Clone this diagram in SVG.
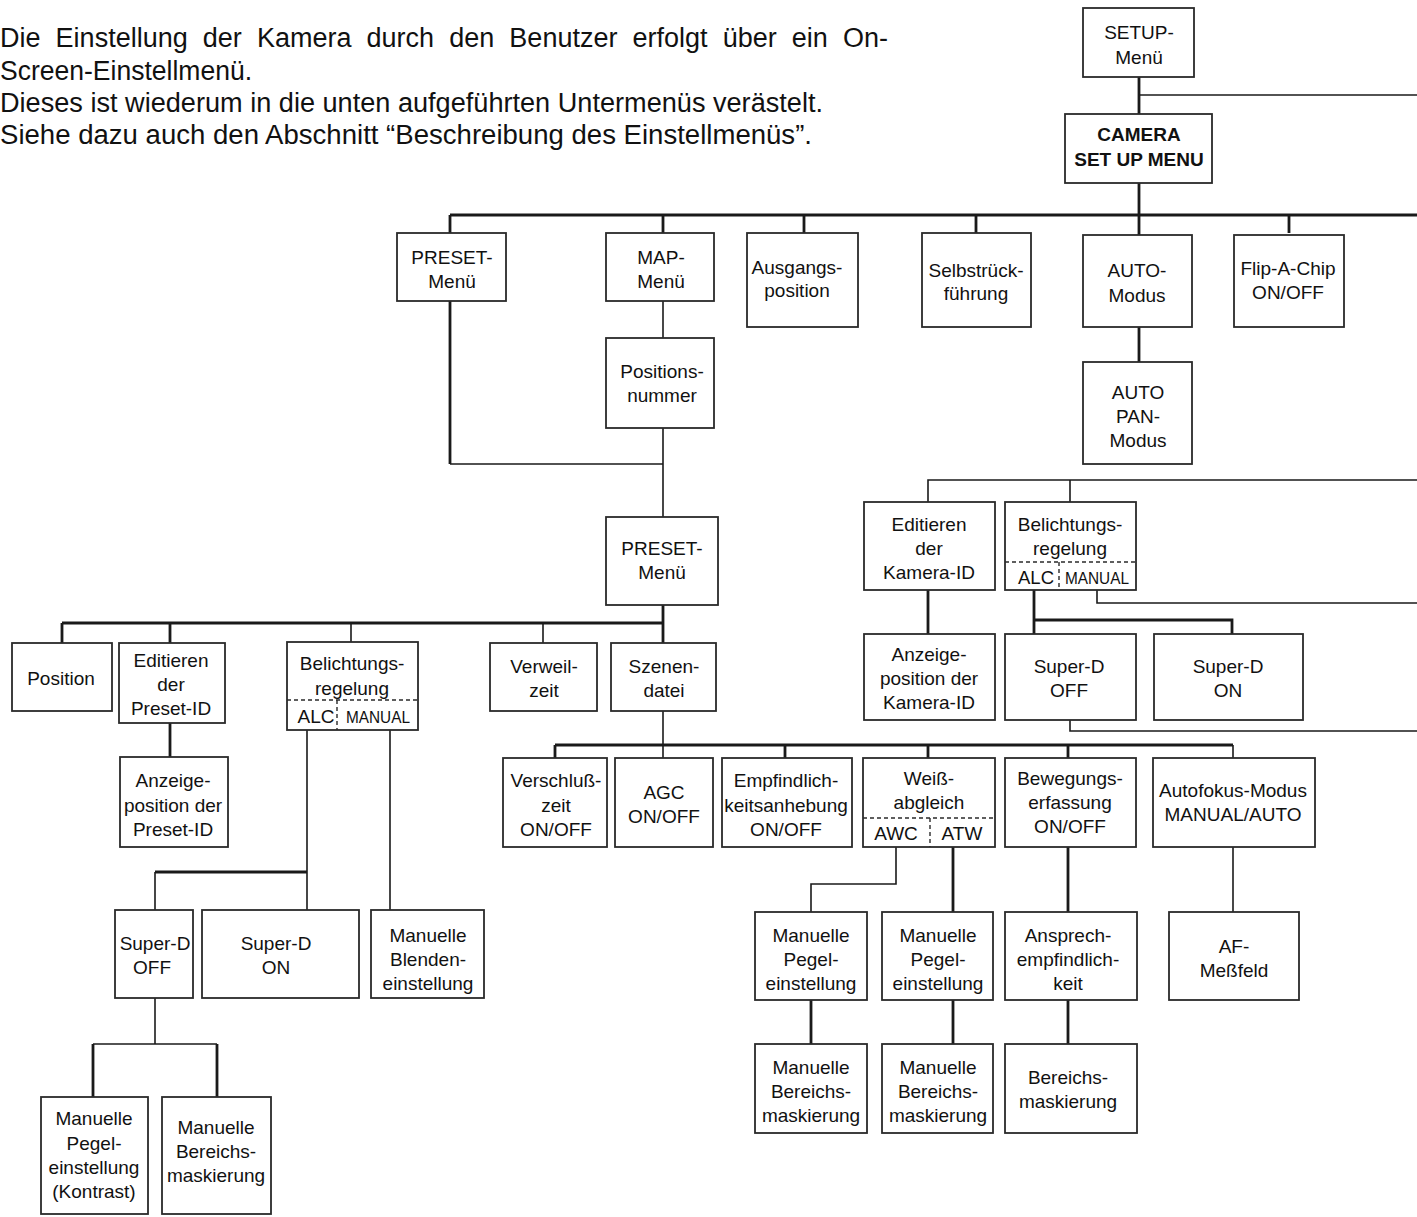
<svg xmlns="http://www.w3.org/2000/svg" width="1417" height="1217" viewBox="0 0 1417 1217">
<style>
.bg{fill:#fff}
rect.b{fill:#fff;stroke:#2a2a2a;stroke-width:1.8}
text{font-family:"Liberation Sans",Arial,sans-serif;fill:#111}
.t{font-size:19px;text-anchor:middle}
.s{font-size:17px;text-anchor:middle}
.bold{font-weight:bold;font-size:19px;text-anchor:middle}
.p{font-size:27px}
.k{fill:none;stroke:#1a1a1a;stroke-width:2.8}
.h{fill:none;stroke:#1a1a1a;stroke-width:1.6}
.d{fill:none;stroke:#2a2a2a;stroke-width:1.4;stroke-dasharray:4 3}
</style>
<rect class="bg" x="0" y="0" width="1417" height="1217"/>
<g id="intro">
<text class="p" x="0" y="47" word-spacing="7.6">Die Einstellung der Kamera durch den Benutzer erfolgt über ein On-</text>
<text class="p" x="0" y="80" textLength="252" lengthAdjust="spacingAndGlyphs">Screen-Einstellmenü.</text>
<text class="p" x="0" y="112" textLength="823" lengthAdjust="spacingAndGlyphs">Dieses ist wiederum in die unten aufgeführten Untermenüs verästelt.</text>
<text class="p" x="0" y="144" textLength="812" lengthAdjust="spacingAndGlyphs">Siehe dazu auch den Abschnitt “Beschreibung des Einstellmenüs”.</text>
</g>
<g id="connectors">
<path class="k" d="M1139 77V114M1139 183V235M450 215H1417M450 215V233M663 215V233M804 215V233M976 215V233M1289 215V233"/>
<path class="h" d="M1139 95H1417"/>
<path class="k" d="M1139 327V362"/>
<path class="h" d="M663 301V338"/>
<path class="k" d="M450 301V464"/>
<path class="h" d="M450 464H663M663 428V517"/>
<path class="h" d="M928 502V480H1417M1070 480V502"/>
<path class="k" d="M928 590V634"/>
<path class="h" d="M1097 590V603H1417"/>
<path class="k" d="M1034 590V634M1034 620H1232V634"/>
<path class="h" d="M1070 720V731H1417"/>
<path class="k" d="M62 623H663M62 623V643M170 623V643M663 605V643"/>
<path class="h" d="M351 623V642M543 623V643"/>
<path class="k" d="M170 723V757"/>
<path class="h" d="M307 730V910M390 730V910M155 910V872"/>
<path class="k" d="M155 872H307"/>
<path class="h" d="M155 998V1044"/>
<path class="h" d="M93 1044H217"/>
<path class="k" d="M93 1044V1097M217 1044V1097"/>
<path class="h" d="M663 711V745"/>
<path class="k" d="M555 745H1233M555 745V758M785 745V758M928 745V758M1068 745V758"/>
<path class="h" d="M663 745V758M1233 745V758"/>
<path class="h" d="M896 847V884H811V912"/>
<path class="k" d="M953 847V912M1068 847V912"/>
<path class="h" d="M1233 847V912"/>
<path class="k" d="M811 1000V1044M953 1000V1044M1068 1000V1044"/>
</g>
<g id="n-setup"><rect class="b" x="1083" y="8" width="111" height="69"/><text class="t" x="1139" y="39">SETUP-</text><text class="t" x="1139" y="64">Menü</text></g>
<g id="n-camera"><rect class="b" x="1065" y="114" width="147" height="69"/><text class="bold" x="1139" y="141">CAMERA</text><text class="bold" x="1139" y="166">SET UP MENU</text></g>
<g id="n-preset1"><rect class="b" x="397" y="233" width="109" height="68"/><text class="t" x="452" y="264">PRESET-</text><text class="t" x="452" y="288">Menü</text></g>
<g id="n-map"><rect class="b" x="606" y="233" width="108" height="68"/><text class="t" x="661" y="264">MAP-</text><text class="t" x="661" y="288">Menü</text></g>
<g id="n-ausgang"><rect class="b" x="747" y="233" width="111" height="94"/><text class="t" x="797" y="274">Ausgangs-</text><text class="t" x="797" y="297">position</text></g>
<g id="n-selbst"><rect class="b" x="922" y="233" width="109" height="94"/><text class="t" x="976" y="277">Selbstrück-</text><text class="t" x="976" y="300">führung</text></g>
<g id="n-auto"><rect class="b" x="1083" y="235" width="109" height="92"/><text class="t" x="1137" y="277">AUTO-</text><text class="t" x="1137" y="302">Modus</text></g>
<g id="n-flip"><rect class="b" x="1234" y="235" width="110" height="92"/><text class="t" x="1288" y="275">Flip-A-Chip</text><text class="t" x="1288" y="299">ON/OFF</text></g>
<g id="n-posnr"><rect class="b" x="606" y="338" width="108" height="90"/><text class="t" x="662" y="378">Positions-</text><text class="t" x="662" y="402">nummer</text></g>
<g id="n-autopan"><rect class="b" x="1083" y="362" width="109" height="102"/><text class="t" x="1138" y="399">AUTO</text><text class="t" x="1138" y="423">PAN-</text><text class="t" x="1138" y="447">Modus</text></g>
<g id="n-preset2"><rect class="b" x="606" y="517" width="112" height="88"/><text class="t" x="662" y="555">PRESET-</text><text class="t" x="662" y="579">Menü</text></g>
<g id="n-editcam"><rect class="b" x="864" y="502" width="131" height="88"/><text class="t" x="929" y="531">Editieren</text><text class="t" x="929" y="555">der</text><text class="t" x="929" y="579">Kamera-ID</text></g>
<g id="n-belR"><rect class="b" x="1005" y="502" width="131" height="88"/><path class="d" d="M1005 562H1136M1059 562V590"/><text class="t" x="1036" y="584" textLength="36" lengthAdjust="spacingAndGlyphs">ALC</text><text class="t" x="1070" y="531">Belichtungs-</text><text class="t" x="1070" y="555">regelung</text><text class="s" x="1097" y="584" textLength="64" lengthAdjust="spacingAndGlyphs">MANUAL</text></g>
<g id="n-anzcam"><rect class="b" x="864" y="634" width="131" height="86"/><text class="t" x="929" y="661">Anzeige-</text><text class="t" x="929" y="685">position der</text><text class="t" x="929" y="709">Kamera-ID</text></g>
<g id="n-sdoffR"><rect class="b" x="1005" y="634" width="131" height="86"/><text class="t" x="1069" y="673">Super-D</text><text class="t" x="1069" y="697">OFF</text></g>
<g id="n-sdonR"><rect class="b" x="1154" y="634" width="149" height="86"/><text class="t" x="1228" y="673">Super-D</text><text class="t" x="1228" y="697">ON</text></g>
<g id="n-position"><rect class="b" x="12" y="643" width="100" height="68"/><text class="t" x="61" y="685">Position</text></g>
<g id="n-editpre"><rect class="b" x="119" y="643" width="106" height="80"/><text class="t" x="171" y="667">Editieren</text><text class="t" x="171" y="691">der</text><text class="t" x="171" y="715">Preset-ID</text></g>
<g id="n-belL"><rect class="b" x="287" y="642" width="131" height="88"/><path class="d" d="M287 700H418M337 700V730"/><text class="t" x="352" y="670">Belichtungs-</text><text class="t" x="352" y="695">regelung</text><text class="t" x="316" y="723">ALC</text><text class="s" x="378" y="723" textLength="64" lengthAdjust="spacingAndGlyphs">MANUAL</text></g>
<g id="n-verweil"><rect class="b" x="490" y="643" width="107" height="68"/><text class="t" x="544" y="673">Verweil-</text><text class="t" x="544" y="697">zeit</text></g>
<g id="n-szene"><rect class="b" x="611" y="643" width="105" height="68"/><text class="t" x="664" y="673">Szenen-</text><text class="t" x="664" y="697">datei</text></g>
<g id="n-anzpre"><rect class="b" x="120" y="757" width="108" height="90"/><text class="t" x="173" y="787">Anzeige-</text><text class="t" x="173" y="812">position der</text><text class="t" x="173" y="836">Preset-ID</text></g>
<g id="n-versch"><rect class="b" x="503" y="758" width="104" height="89"/><text class="t" x="556" y="787">Verschluß-</text><text class="t" x="556" y="812">zeit</text><text class="t" x="556" y="836">ON/OFF</text></g>
<g id="n-agc"><rect class="b" x="615" y="758" width="98" height="89"/><text class="t" x="664" y="799">AGC</text><text class="t" x="664" y="823">ON/OFF</text></g>
<g id="n-empf"><rect class="b" x="722" y="758" width="130" height="89"/><text class="t" x="786" y="787">Empfindlich-</text><text class="t" x="786" y="812">keitsanhebung</text><text class="t" x="786" y="836">ON/OFF</text></g>
<g id="n-weiss"><rect class="b" x="863" y="758" width="132" height="89"/><path class="d" d="M863 818H995M930 818V847"/><text class="t" x="929" y="785">Weiß-</text><text class="t" x="929" y="809">abgleich</text><text class="t" x="896" y="840">AWC</text><text class="t" x="962" y="840">ATW</text></g>
<g id="n-beweg"><rect class="b" x="1005" y="758" width="131" height="89"/><text class="t" x="1070" y="785">Bewegungs-</text><text class="t" x="1070" y="809">erfassung</text><text class="t" x="1070" y="833">ON/OFF</text></g>
<g id="n-af"><rect class="b" x="1153" y="758" width="162" height="89"/><text class="t" x="1233" y="797">Autofokus-Modus</text><text class="t" x="1233" y="821">MANUAL/AUTO</text></g>
<g id="n-sdoffL"><rect class="b" x="115" y="910" width="78" height="88"/><text class="t" x="155" y="950">Super-D</text><text class="t" x="152" y="974">OFF</text></g>
<g id="n-sdonL"><rect class="b" x="202" y="910" width="157" height="88"/><text class="t" x="276" y="950">Super-D</text><text class="t" x="276" y="974">ON</text></g>
<g id="n-blende"><rect class="b" x="371" y="910" width="113" height="88"/><text class="t" x="428" y="942">Manuelle</text><text class="t" x="428" y="966">Blenden-</text><text class="t" x="428" y="990">einstellung</text></g>
<g id="n-pegelK"><rect class="b" x="41" y="1097" width="107" height="117"/><text class="t" x="94" y="1125">Manuelle</text><text class="t" x="94" y="1150">Pegel-</text><text class="t" x="94" y="1174">einstellung</text><text class="t" x="94" y="1198">(Kontrast)</text></g>
<g id="n-bereichL"><rect class="b" x="162" y="1097" width="109" height="117"/><text class="t" x="216" y="1134">Manuelle</text><text class="t" x="216" y="1158">Bereichs-</text><text class="t" x="216" y="1182">maskierung</text></g>
<g id="n-pegel1"><rect class="b" x="755" y="912" width="112" height="88"/><text class="t" x="811" y="942">Manuelle</text><text class="t" x="811" y="966">Pegel-</text><text class="t" x="811" y="990">einstellung</text></g>
<g id="n-pegel2"><rect class="b" x="882" y="912" width="111" height="88"/><text class="t" x="938" y="942">Manuelle</text><text class="t" x="938" y="966">Pegel-</text><text class="t" x="938" y="990">einstellung</text></g>
<g id="n-ansprech"><rect class="b" x="1005" y="912" width="132" height="88"/><text class="t" x="1068" y="942">Ansprech-</text><text class="t" x="1068" y="966">empfindlich-</text><text class="t" x="1068" y="990">keit</text></g>
<g id="n-afmess"><rect class="b" x="1169" y="912" width="130" height="88"/><text class="t" x="1234" y="953">AF-</text><text class="t" x="1234" y="977">Meßfeld</text></g>
<g id="n-bereich1"><rect class="b" x="755" y="1044" width="112" height="89"/><text class="t" x="811" y="1074">Manuelle</text><text class="t" x="811" y="1098">Bereichs-</text><text class="t" x="811" y="1122">maskierung</text></g>
<g id="n-bereich2"><rect class="b" x="882" y="1044" width="111" height="89"/><text class="t" x="938" y="1074">Manuelle</text><text class="t" x="938" y="1098">Bereichs-</text><text class="t" x="938" y="1122">maskierung</text></g>
<g id="n-bereich3"><rect class="b" x="1005" y="1044" width="132" height="89"/><text class="t" x="1068" y="1084">Bereichs-</text><text class="t" x="1068" y="1108">maskierung</text></g>
</svg>
